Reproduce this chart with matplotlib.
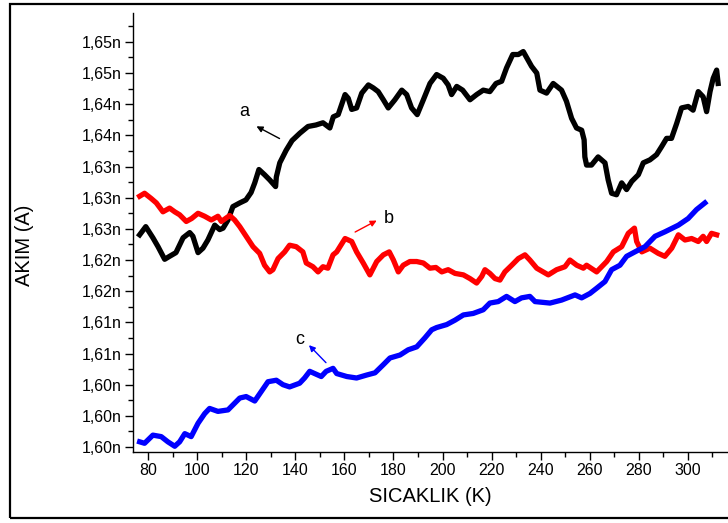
import matplotlib.pyplot as plt
import numpy as np
from matplotlib.patches import Rectangle
from matplotlib.ticker import FixedLocator, MultipleLocator, FuncFormatter

plt.rcParams['font.family'] = ['Liberation Sans', 'DejaVu Sans']

# egri a (siyah)
t_a = [76.6, 79.1, 82.0, 84.1, 86.8, 88.8, 91.4, 94.3, 97.0, 98.3, 100.4, 102.4, 104.4,
       107.2, 109.2, 110.6, 112.6, 114.6, 117.4, 119.9, 122.0, 123.5, 125.2, 127.5, 129.6,
       132.0, 132.3, 133.7, 136.3, 138.7, 141.9, 145.2, 148.4, 151.3, 154.1, 155.5, 157.5,
       160.3, 161.6, 163.0, 165.0, 167.1, 169.8, 171.8, 173.8, 175.9, 177.9, 180.6, 183.4,
       185.4, 187.4, 189.7, 192.2, 194.9, 197.6, 200.3, 202.3, 203.7, 205.8, 208.2, 211.2,
       213.9, 216.6, 219.3, 221.8, 224.1, 226.1, 228.6, 230.9, 232.9, 236.3, 238.4, 239.7,
       242.4, 245.1, 248.5, 250.5, 252.6, 254.6, 256.7, 257.7, 258.0, 258.7, 260.7, 263.4,
       266.2, 267.5, 268.9, 270.9, 273.0, 275.0, 277.1, 279.8, 281.8, 284.5, 287.2, 289.3,
       291.3, 293.3, 295.4, 297.4, 300.1, 302.1, 304.2, 306.2, 307.6, 309.0, 310.3, 311.7,
       312.3]
i_a = [1.6244, 1.6255, 1.6240, 1.6228, 1.6211, 1.6215, 1.6220, 1.6240, 1.6247, 1.6242,
       1.6220, 1.6226, 1.6237, 1.6257, 1.6251, 1.6253, 1.6264, 1.6282, 1.6287, 1.6291,
       1.6301, 1.6314, 1.6332, 1.6325, 1.6318, 1.6309, 1.6322, 1.6341, 1.6358, 1.6371,
       1.6381, 1.6390, 1.6392, 1.6395, 1.6388, 1.6403, 1.6406, 1.6433, 1.6428, 1.6413,
       1.6415, 1.6435, 1.6446, 1.6442, 1.6437, 1.6426, 1.6415, 1.6426, 1.6439, 1.6433,
       1.6415, 1.6406, 1.6426, 1.6448, 1.6460, 1.6455, 1.6446, 1.6433, 1.6444, 1.6439,
       1.6426, 1.6433, 1.6439, 1.6437, 1.6448, 1.6451, 1.6469, 1.6487, 1.6487, 1.6491,
       1.6471, 1.6462, 1.6439, 1.6435, 1.6448, 1.6439, 1.6424, 1.6401, 1.6388, 1.6385,
       1.6372, 1.6349, 1.6338, 1.6338, 1.6349, 1.6341, 1.6318, 1.6300, 1.6298, 1.6314,
       1.6305, 1.6316, 1.6325, 1.6341, 1.6345, 1.6352, 1.6363, 1.6374, 1.6374, 1.6394,
       1.6415, 1.6417, 1.6412, 1.6437, 1.6430, 1.6410, 1.6437, 1.6455, 1.6466, 1.6448]

# egri b (kirmizi)
t_b = [76.6, 78.6, 81.3, 83.4, 86.1, 88.8, 90.9, 92.9, 95.6, 97.8, 100.4, 103.1, 105.8,
       108.5, 109.9, 113.3, 115.3, 117.4, 120.0, 122.8, 125.5, 127.5, 129.6, 130.9, 133.0,
       135.7, 137.7, 140.4, 143.1, 144.5, 147.2, 149.3, 151.3, 153.3, 155.4, 156.9, 160.3,
       163.0, 165.0, 167.7, 170.4, 173.2, 175.9, 178.3, 180.0, 182.0, 184.0, 186.7, 189.5,
       192.2, 194.9, 197.3, 199.7, 202.3, 205.1, 208.5, 211.2, 213.9, 216.0, 217.3, 219.3,
       221.4, 223.4, 225.4, 228.2, 230.9, 233.6, 235.6, 238.4, 243.1, 246.5, 249.9, 251.9,
       254.7, 257.4, 258.7, 262.8, 266.9, 269.6, 273.0, 275.7, 278.2, 279.1, 281.2, 284.5,
       287.9, 290.6, 293.4, 296.1, 298.8, 301.5, 304.2, 306.2, 307.6, 309.6, 311.7]
i_b = [1.6296, 1.6300, 1.6293, 1.6287, 1.6275, 1.6280, 1.6275, 1.6271, 1.6262, 1.6266,
       1.6273, 1.6269, 1.6264, 1.6269, 1.6262, 1.6270, 1.6264, 1.6255, 1.6242, 1.6228,
       1.6219, 1.6203, 1.6194, 1.6197, 1.6212, 1.6221, 1.6230, 1.6228, 1.6221, 1.6206,
       1.6201, 1.6194, 1.6201, 1.6199, 1.6217, 1.6221, 1.6239, 1.6235, 1.6221, 1.6206,
       1.6190, 1.6208, 1.6217, 1.6221, 1.6210, 1.6194, 1.6203, 1.6208, 1.6208, 1.6206,
       1.6199, 1.6200, 1.6194, 1.6197, 1.6192, 1.6190, 1.6185, 1.6179, 1.6188, 1.6197,
       1.6192, 1.6185, 1.6183, 1.6194, 1.6203, 1.6212, 1.6217, 1.6210, 1.6199, 1.6190,
       1.6197, 1.6201, 1.6210, 1.6203, 1.6199, 1.6203, 1.6194, 1.6208, 1.6221, 1.6228,
       1.6246, 1.6253, 1.6235, 1.6221, 1.6226, 1.6219, 1.6215, 1.6226, 1.6244, 1.6237,
       1.6239, 1.6235, 1.6242, 1.6235, 1.6246, 1.6244]

# egri c (mavi)
t_c = [76.6, 78.6, 82.0, 85.4, 88.1, 90.9, 92.9, 95.0, 97.6, 100.4, 103.1, 105.1, 108.5,
       112.6, 117.4, 120.0, 123.5, 126.2, 128.9, 132.3, 135.0, 137.7, 141.8, 143.8, 145.9,
       147.9, 150.6, 152.6, 155.4, 156.9, 161.0, 165.0, 169.1, 172.5, 175.9, 178.6, 182.7,
       186.0, 189.5, 192.8, 195.6, 197.6, 201.7, 205.1, 208.5, 212.5, 216.6, 219.3, 222.7,
       226.1, 229.5, 232.2, 235.6, 237.7, 243.8, 248.5, 254.0, 256.7, 260.1, 262.8, 266.2,
       268.9, 272.3, 275.0, 278.4, 282.5, 286.6, 290.6, 296.1, 300.1, 303.5, 306.9]
i_c = [1.5965, 1.5963, 1.5974, 1.5972, 1.5965, 1.5959, 1.5965, 1.5976, 1.5972, 1.5990,
       1.6003, 1.6010, 1.6006, 1.6008, 1.6024, 1.6026, 1.6020, 1.6033, 1.6046, 1.6048,
       1.6042, 1.6039, 1.6044, 1.6051, 1.6060, 1.6057, 1.6053, 1.6060, 1.6064, 1.6057,
       1.6053, 1.6051, 1.6055, 1.6058, 1.6069, 1.6078, 1.6082, 1.6089, 1.6093, 1.6105,
       1.6116, 1.6119, 1.6123, 1.6129, 1.6136, 1.6138, 1.6143, 1.6152, 1.6154, 1.6161,
       1.6154, 1.6159, 1.6161, 1.6154, 1.6152, 1.6156, 1.6163, 1.6159, 1.6165, 1.6172,
       1.6181, 1.6197, 1.6203, 1.6215, 1.6221, 1.6228, 1.6242, 1.6248, 1.6257, 1.6266,
       1.6278, 1.6287]

x_ticks = [80, 100, 120, 140, 160, 180, 200, 220, 240, 260, 280, 300]
y_ticks = [1.5958 + 0.0042 * k for k in range(14)]

fig = plt.figure(figsize=(7.28, 5.23), dpi=100)
ax = fig.add_axes([0.1827, 0.1358, 0.8297, 0.8394])

# cerceve
fig.patches.append(Rectangle((0.0135, 0.0095), 1.2, 0.983, transform=fig.transFigure,
                             fill=False, edgecolor='black', linewidth=1.6))

ax.plot(t_a, i_a, color='black', lw=3.8, solid_joinstyle='round')
ax.plot(t_b, i_b, color='red', lw=3.8, solid_joinstyle='round')
ax.plot(t_c, i_c, color='blue', lw=3.8, solid_joinstyle='round')

ax.set_xlim(73.9, 320.0)
ax.set_ylim(1.59513, 1.6543)

ax.xaxis.set_major_locator(FixedLocator(x_ticks))
ax.xaxis.set_minor_locator(MultipleLocator(10))
ax.yaxis.set_major_locator(FixedLocator(y_ticks))
ax.yaxis.set_minor_locator(FixedLocator([v + 0.0021 for v in y_ticks]))
ax.yaxis.set_major_formatter(FuncFormatter(lambda v, p: ('%.2fn' % v).replace('.', ',')))

for s in ['top', 'right']:
    ax.spines[s].set_visible(False)
for s in ['left', 'bottom']:
    ax.spines[s].set_linewidth(1.0)
ax.tick_params(which='major', direction='out', length=6, width=1, labelsize=11.5, pad=2)
ax.tick_params(which='minor', direction='out', length=3.6, width=1)

ax.set_xlabel('SICAKLIK (K)', fontsize=14.5)
ax.set_ylabel('AKIM (A)', fontsize=14.5)
ax.xaxis.set_label_coords(0.492, -0.079)
ax.yaxis.set_label_coords(-0.164, 0.4715)

# etiketler
ax.annotate('', xy=(123.2, 1.6392), xytext=(134.6, 1.6372),
            arrowprops=dict(arrowstyle='-|>', color='black', lw=1, mutation_scale=9))
ax.text(119.1, 1.6410, 'a', fontsize=13, ha='center', va='center')
ax.annotate('', xy=(174.2, 1.6265), xytext=(163.4, 1.6246),
            arrowprops=dict(arrowstyle='-|>', color='red', lw=1, mutation_scale=9))
ax.text(178.3, 1.6266, 'b', fontsize=13, ha='center', va='center')
ax.annotate('', xy=(144.8, 1.6098), xytext=(153.3, 1.6069),
            arrowprops=dict(arrowstyle='-|>', color='blue', lw=1, mutation_scale=9))
ax.text(142.0, 1.6103, 'c', fontsize=13, ha='center', va='center')

fig.savefig('out.png', dpi=100)
